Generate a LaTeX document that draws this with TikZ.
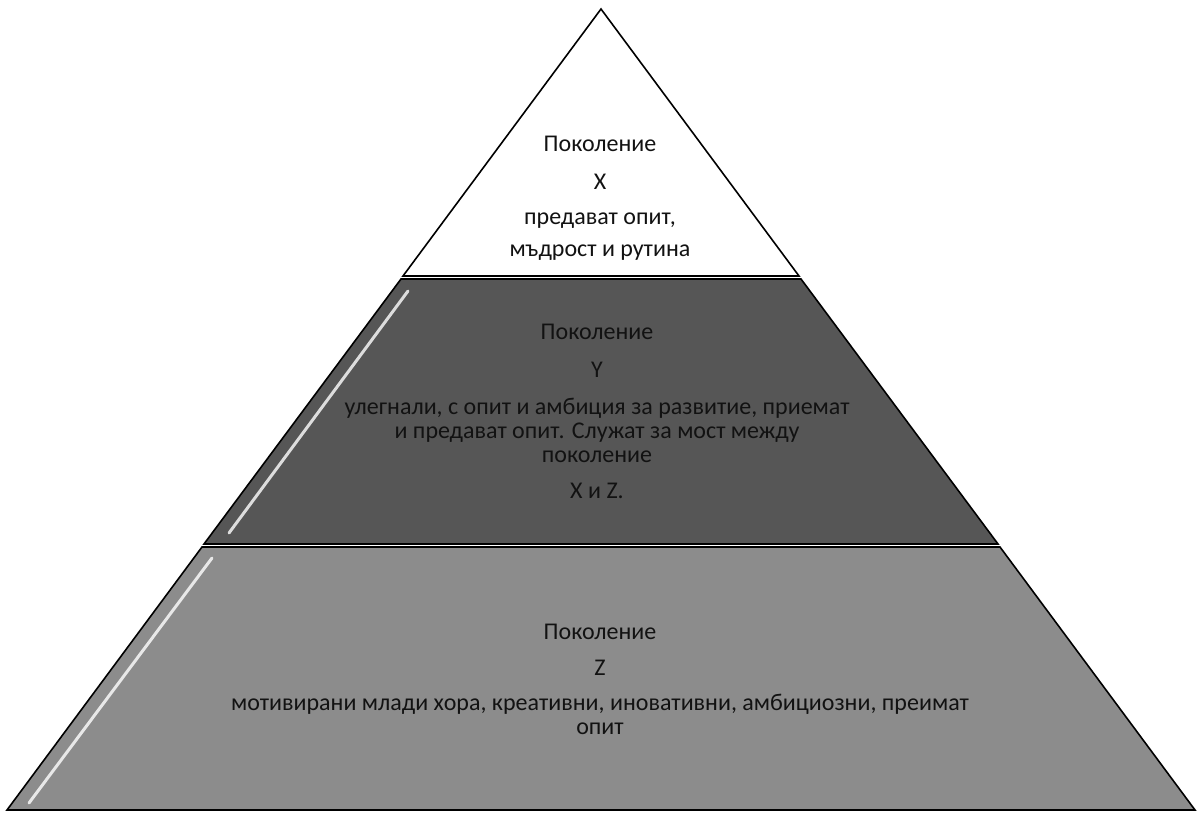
\documentclass[tikz,border=0pt]{standalone}
\usepackage{fontspec}
\setmainfont{Carlito}
\definecolor{layerdark}{RGB}{86,86,86}
\definecolor{layerlight}{RGB}{140,140,140}
\definecolor{inktext}{RGB}{18,18,18}

\begin{document}
\begin{tikzpicture}[x=1pt,y=-1pt]
\tikzstyle{layer}=[draw=black, line width=1.6pt, line join=miter]
\tikzstyle{label}=[align=center, text=inktext, inner sep=0pt,
	font=\fontsize{24}{24}\selectfont]
\tikzstyle{shine}=[draw=white, line width=3pt, line cap=round, opacity=0.8]
\useasboundingbox (0,0) rectangle (1197,814);

% top: generation X
\draw[layer, fill=white] (601,9) -- (799,276) -- (403,276) -- cycle;
% middle: generation Y
\draw[layer, fill=layerdark] (401,279) -- (801,279) -- (998,544) -- (204,544) -- cycle;
% bottom: generation Z
\draw[layer, fill=layerlight] (202,547) -- (1000,547) -- (1195,810) -- (7,810) -- cycle;

% glossy streaks
\draw[shine] (408,291) -- (229,533);
\draw[shine] (212,558) -- (29,803);

\node[label] (genX) at (600,198) {Поколение\\[14pt] Х\\[11pt] предават опит,\\[8pt] мъдрост и рутина};
\node[label] (genY) at (597,411) {Поколение\\[14pt] Y\\[13pt] улегнали, с опит и амбиция за развитие, приемат\\
	и предават опит. Служат за мост между\\ поколение\\[12pt] X и Z.};
\node[label] (genZ) at (600,679) {Поколение\\[12pt] Z\\[11pt] мотивирани млади хора, креативни, иновативни, амбициозни, преимат\\ опит};
\end{tikzpicture}
\end{document}
